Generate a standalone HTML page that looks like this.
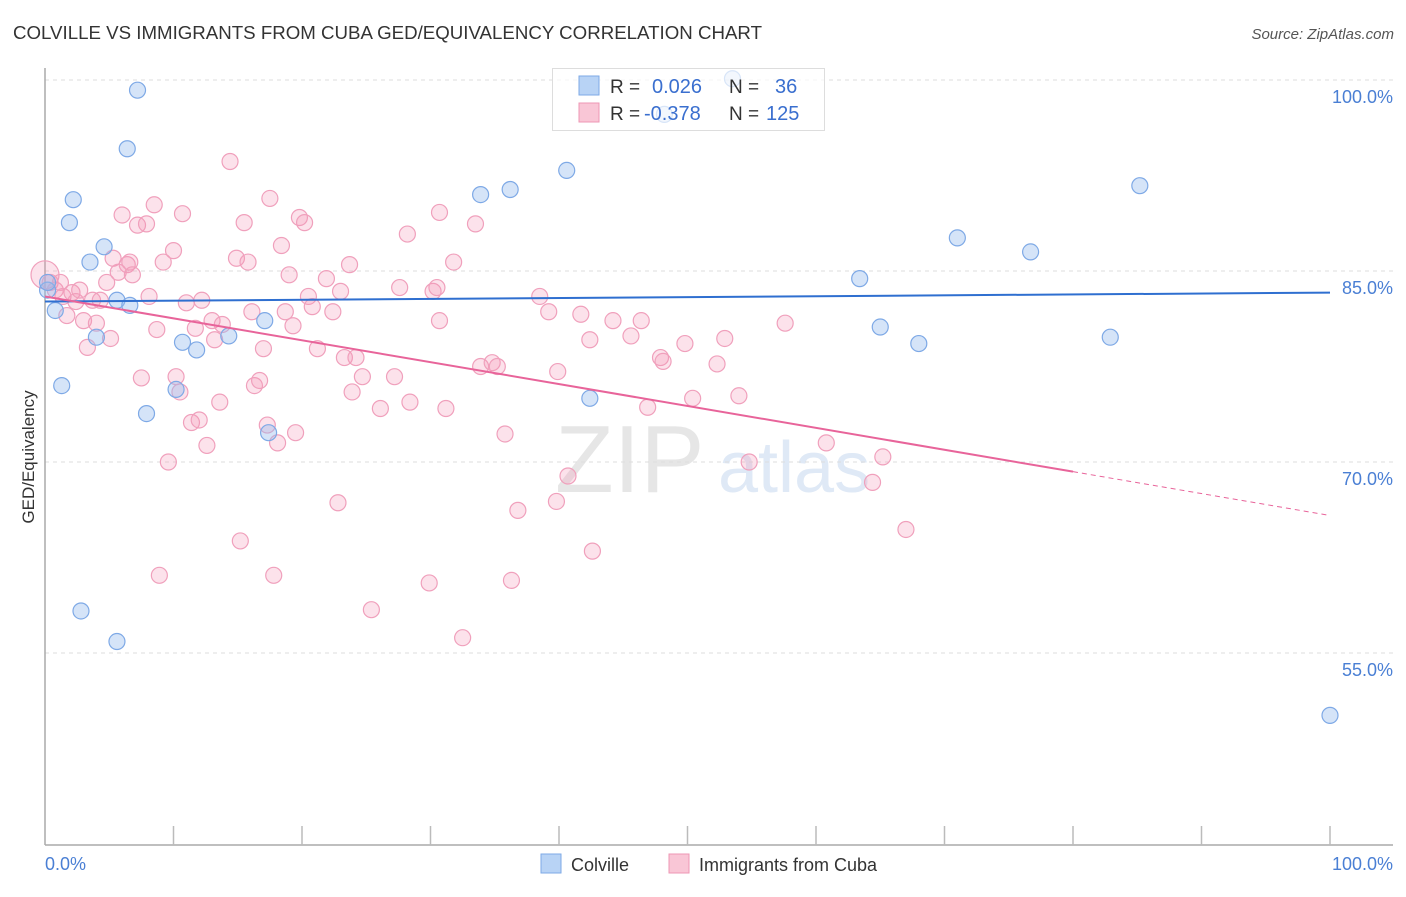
<!DOCTYPE html>
<html><head><meta charset="utf-8"><style>
body{margin:0;background:#fff;width:1406px;height:892px;overflow:hidden;font-family:"Liberation Sans",sans-serif}
svg text{font-family:"Liberation Sans",sans-serif}
</style></head><body>
<svg id="chart" width="1406" height="892" xmlns="http://www.w3.org/2000/svg">
<text x="13" y="39" font-size="18.5" textLength="749" lengthAdjust="spacingAndGlyphs" fill="#333">COLVILLE VS IMMIGRANTS FROM CUBA GED/EQUIVALENCY CORRELATION CHART</text>
<text x="1394" y="39" font-size="15" fill="#555" text-anchor="end" font-style="italic">Source: ZipAtlas.com</text>
<text x="555" y="492" font-size="96" fill="#e6e6e6" font-family="Liberation Serif">ZIP</text>
<text x="718" y="492" font-size="72" fill="#dfe9f6">atlas</text>
<g id="grid"></g>
<g id="axes"></g>
<g id="pts"></g>
<g id="lines"></g>
<text transform="translate(34,457) rotate(-90)" font-size="17" fill="#333" text-anchor="middle">GED/Equivalency</text>
<g>
<rect x="552.5" y="68.5" width="272" height="62" fill="rgba(255,255,255,0.7)" stroke="#ddd"/>
<rect x="579" y="76" width="20" height="19" fill="#b8d3f5" stroke="#7ea9e6"/>
<rect x="579" y="103" width="20" height="19" fill="#f9c6d6" stroke="#ee97b4"/>
<text x="610" y="93" font-size="19" fill="#333">R = </text><text x="652" y="93" font-size="20" fill="#3a6fcf">0.026</text>
<text x="729" y="93" font-size="19" fill="#333">N = </text><text x="775" y="93" font-size="20" fill="#3a6fcf">36</text>
<text x="610" y="120" font-size="19" fill="#333">R = </text><text x="644" y="120" font-size="20" fill="#3a6fcf">-0.378</text>
<text x="729" y="120" font-size="19" fill="#333">N = </text><text x="766" y="120" font-size="20" fill="#3a6fcf">125</text>
</g>
<g>
<rect x="541" y="854" width="20" height="19" fill="#b8d3f5" stroke="#7ea9e6"/>
<text x="571" y="871" font-size="18" fill="#333">Colville</text>
<rect x="669" y="854" width="20" height="19" fill="#f9c6d6" stroke="#ee97b4"/>
<text x="699" y="871" font-size="18" fill="#333">Immigrants from Cuba</text>
</g>
</svg>
<script>
const blueX=[0.2,0.8,1.3,2.2,1.9,3.5,4.0,4.6,2.8,5.6,5.6,6.6,6.4,7.2,7.9,10.2,10.7,11.8,14.3,17.1,17.4,33.9,36.2,40.6,42.4,53.5,48.2,63.4,65.0,68.0,71.0,76.7,82.9,85.2,100,0.2];
const blueY=[83.5,81.9,76.0,90.6,88.8,85.7,79.8,86.9,58.3,55.9,82.7,82.3,94.6,99.2,73.8,75.7,79.4,78.8,79.9,81.1,72.3,91.0,91.4,92.9,75.0,100.1,97.3,84.4,80.6,79.3,87.6,86.5,79.8,91.7,50.1,84.1];
const pinkX=[0.0,0.4,0.8,1.2,1.4,1.7,2.1,2.4,2.7,3.0,3.3,3.7,4.0,4.3,4.8,5.1,5.3,5.7,6.0,6.4,6.6,6.8,7.2,7.5,7.9,8.1,8.5,8.7,8.9,9.2,9.6,10.0,10.2,10.5,10.7,11.0,11.4,11.7,12.0,12.2,12.6,13.0,13.2,13.6,13.8,14.4,15.2,14.9,15.5,15.8,16.1,16.3,16.7,17.0,17.3,17.5,17.8,18.1,18.4,18.7,19.0,19.3,19.5,19.8,20.2,20.5,20.8,21.2,21.9,22.4,22.8,23.0,23.3,23.7,23.9,24.2,24.7,25.4,26.1,27.2,27.6,28.2,28.4,29.9,30.2,30.5,30.7,30.7,31.2,31.8,32.5,33.5,33.9,34.8,35.2,35.8,36.3,36.8,38.5,39.2,39.8,39.9,40.7,41.7,42.4,42.6,44.2,45.6,46.4,46.9,47.9,48.1,49.8,50.4,52.3,52.9,54.0,54.8,57.6,60.8,64.4,65.2,67.0];
const pinkY=[84.7,84.1,83.5,84.1,83.0,81.5,83.3,82.6,83.5,81.1,79.0,82.7,80.9,82.7,84.1,79.7,86.0,84.9,89.4,85.5,85.7,84.7,88.6,76.6,88.7,83.0,90.2,80.4,61.1,85.7,70.0,86.6,76.7,75.5,89.5,82.5,73.1,80.5,73.3,82.7,71.3,81.1,79.6,74.7,80.8,93.6,63.8,86.0,88.8,85.7,81.8,76.0,76.4,78.9,72.9,90.7,61.1,71.5,87.0,81.8,84.7,80.7,72.3,89.2,88.8,83.0,82.2,78.9,84.4,81.8,66.8,83.4,78.2,85.5,75.5,78.2,76.7,58.4,74.2,76.7,83.7,87.9,74.7,60.5,83.4,83.7,81.1,89.6,74.2,85.7,56.2,88.7,77.5,77.8,77.5,72.2,60.7,66.2,83.0,81.8,66.9,77.1,68.9,81.6,79.6,63.0,81.1,79.9,81.1,74.3,78.2,77.9,79.3,75.0,77.7,79.7,75.2,70.0,80.9,71.5,68.4,70.4,64.7];
const yTicks=[100,85,70,55];
const yTickLabels=["100.0%","85.0%","70.0%","55.0%"];
const blueTrend=[82.6,83.3];
const pinkTrend=[83.0,65.8];
const pinkSolidEnd=80;

const NS="http://www.w3.org/2000/svg";
const X=v=>45+v*12.85;
const Y=v=>80+(100-v)*12.733;
function mk(tag,attrs,parent){const e=document.createElementNS(NS,tag);for(const k in attrs)e.setAttribute(k,attrs[k]);document.getElementById(parent).appendChild(e);return e;}
yTicks.forEach((t,i)=>{
  const g=mk('line',{x1:45,x2:1393,y1:Y(t),y2:Y(t),stroke:'#ddd','stroke-dasharray':'4,4'},'grid');
  
  
  const l=mk('text',{x:1393,y:Y(t)+23,'font-size':18,fill:'#4a7fd4','text-anchor':'end'},'grid');
  l.textContent=yTickLabels[i];
  
  
});
const ax=mk('line',{x1:45,x2:45,y1:68,y2:845,stroke:'#aaa','stroke-width':1.5},'axes');


const bx=mk('line',{x1:45,x2:1393,y1:845,y2:845,stroke:'#aaa','stroke-width':1.5},'axes');


for(let i=1;i<=10;i++){
  const t=mk('line',{x1:X(i*10),x2:X(i*10),y1:826,y2:845,stroke:'#bbb','stroke-width':1.5},'axes');
  
  
}
const x0=mk('text',{x:45,y:870,'font-size':18,fill:'#4a7fd4'},'axes');x0.textContent='0.0%';


const x1=mk('text',{x:1393,y:870,'font-size':18,fill:'#4a7fd4','text-anchor':'end'},'axes');x1.textContent='100.0%';


pinkX.forEach((v,i)=>{
  const c=mk('circle',{cx:X(v),cy:Y(pinkY[i]),r:i===0?14:8,fill:'rgba(244,150,182,0.28)',stroke:'#f0a0bc','stroke-width':1.2},'pts');
  
  
});
blueX.forEach((v,i)=>{
  const c=mk('circle',{cx:X(v),cy:Y(blueY[i]),r:8,fill:'rgba(150,188,238,0.4)',stroke:'#7ea9e6','stroke-width':1.2},'pts');
  
  
});
const bl=mk('line',{x1:X(0),x2:X(100),y1:Y(blueTrend[0]),y2:Y(blueTrend[1]),stroke:'#2f6fd0','stroke-width':2},'lines');


const pm=pinkTrend[0]+(pinkTrend[1]-pinkTrend[0])*pinkSolidEnd/100;
const pl=mk('line',{x1:X(0),x2:X(pinkSolidEnd),y1:Y(pinkTrend[0]),y2:Y(pm),stroke:'#e8649a','stroke-width':2},'lines');


const pd=mk('line',{x1:X(pinkSolidEnd),x2:X(100),y1:Y(pm),y2:Y(pinkTrend[1]),stroke:'#e8649a','stroke-width':1,'stroke-dasharray':'5,4'},'lines');


</script>
</body></html>
